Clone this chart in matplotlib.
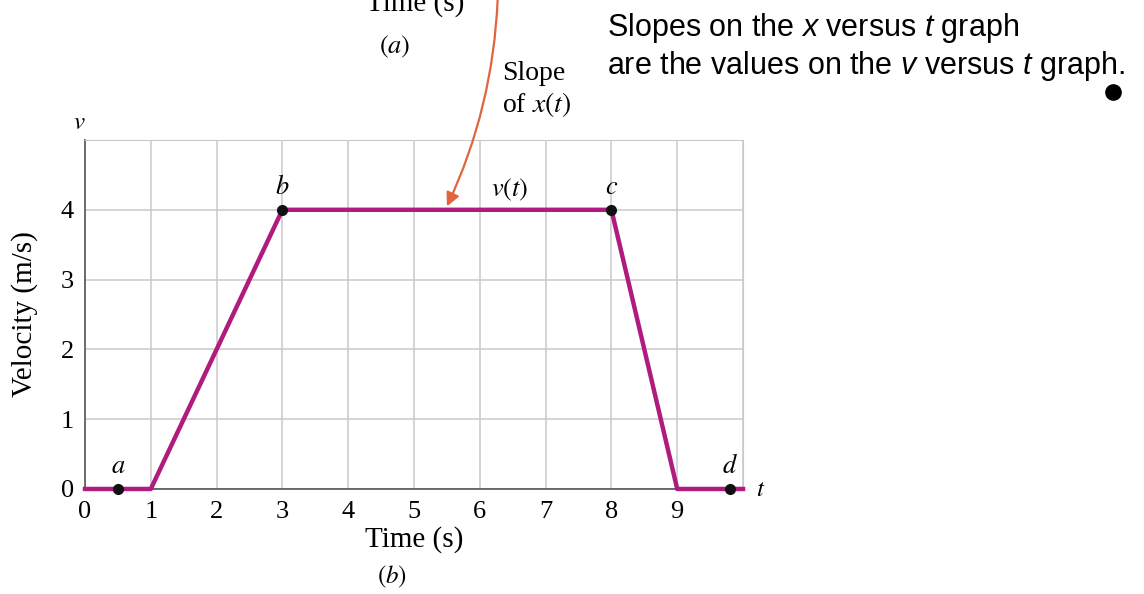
"""Velocity versus time graph, panel (b) of the x(t) / v(t) pair."""

import matplotlib
matplotlib.use("Agg")
import matplotlib.pyplot as plt
from matplotlib.lines import Line2D

plt.rcParams["font.family"] = ["Liberation Serif", "DejaVu Serif"]
plt.rcParams["mathtext.fontset"] = "custom"
plt.rcParams["mathtext.rm"] = "Liberation Sans"
plt.rcParams["mathtext.it"] = "Liberation Sans:italic"

# v(t) corner points
time_s = [0, 1, 3, 8, 9, 10]
velocity = [0, 0, 4, 4, 0, 0]

# labelled points on the curve
point_names = ["a", "b", "c", "d"]
point_t = [0.5, 3, 8, 9.8]
point_v = [0, 4, 4, 0]

x_ticks = [0, 1, 2, 3, 4, 5, 6, 7, 8, 9]
y_ticks = [0, 1, 2, 3, 4]

CURVE = "#b01c7e"
ARROW = "#e2643f"
GRID = "#c9c9c9"

fig = plt.figure(figsize=(11.44, 5.94), dpi=100)
ax = fig.add_axes([0.0743, 0.1768, 0.5752, 0.5875])

ax.set_xlim(0, 10)
ax.set_ylim(0, 5)
ax.set_xticks(x_ticks)
ax.set_yticks(y_ticks)
ax.set_xticks([10], minor=True)
ax.set_yticks([5], minor=True)
ax.grid(True, which="both", color=GRID, linewidth=1.1)
ax.set_axisbelow(True)
ax.tick_params(length=0, labelsize=19)
ax.tick_params(axis="x", pad=9)
ax.tick_params(axis="y", pad=8)
ax.tick_params(which="minor", length=0)
for side in ("top", "right"):
    ax.spines[side].set_color(GRID)
for side in ("left", "bottom"):
    ax.spines[side].set_color("#555555")
    ax.spines[side].set_linewidth(1.2)

ax.plot(time_s, velocity, color=CURVE, linewidth=3.2, solid_joinstyle="round",
        clip_on=False, zorder=3)
ax.plot(point_t, point_v, "o", color="#111111", markersize=7, clip_on=False, zorder=4)
for name, t, v in zip(point_names, point_t, point_v):
    ax.annotate(f"${name}$", (t, v), xytext=(0, 8), textcoords="offset points",
                ha="center", va="bottom", fontsize=19, math_fontfamily="stix")
ax.text(6.45, 4.1, "$v(t)$", ha="center", va="bottom", fontsize=19,
        math_fontfamily="stix")

ax.set_xlabel("Time (s)", fontsize=21, labelpad=2)
ax.set_ylabel("Velocity (m/s)", fontsize=21, labelpad=16)
ax.text(-0.08, 5.08, "$v$", ha="center", va="bottom", fontsize=18, math_fontfamily="stix")
ax.text(10.2, -0.02, "$t$", ha="left", va="center", fontsize=18, math_fontfamily="stix")
fig.text(0.343, 0.028, "$(b)$", ha="center", va="center", fontsize=18,
         math_fontfamily="stix")

# panel (a) remnants above the plot
fig.text(0.363, 0.982, "Time (s)", ha="center", va="baseline", fontsize=21)
fig.text(0.345, 0.921, "$(a)$", ha="center", va="center", fontsize=19,
         math_fontfamily="stix")
fig.text(0.439, 0.800, "Slope\nof $x(t)$", ha="left", va="bottom", fontsize=20,
         linespacing=1.15, math_fontfamily="stix")

ax.annotate("", xy=(5.5, 4.05), xycoords="data",
            xytext=(0.435, 1.0), textcoords="figure fraction",
            arrowprops=dict(arrowstyle="-|>", color=ARROW, linewidth=1.6,
                            mutation_scale=20, shrinkA=0, shrinkB=0,
                            connectionstyle="arc3,rad=-0.1"),
            annotation_clip=False)

fig.text(0.531, 0.94, "Slopes on the $x$ versus $t$ graph", ha="left",
         va="baseline", fontsize=22, family="Liberation Sans")
fig.text(0.531, 0.876, "are the values on the $v$ versus $t$ graph.", ha="left",
         va="baseline", fontsize=22, family="Liberation Sans")
fig.add_artist(Line2D([0.973], [0.845], marker="o", markersize=11,
                      color="black", transform=fig.transFigure))

fig.savefig("out.png", dpi=100)
